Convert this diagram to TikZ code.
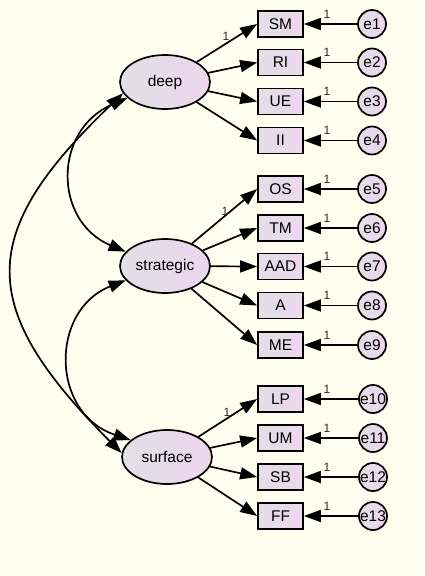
\documentclass[tikz,border=0pt]{standalone}
\usepackage{fontspec}
\setmainfont{Liberation Sans}
\usetikzlibrary{arrows.meta,shapes.geometric}
\definecolor{bg}{RGB}{255,255,240}
\definecolor{fillA}{RGB}{224,224,230}
\definecolor{fillB}{RGB}{238,214,238}
\definecolor{onecol}{RGB}{40,40,40}
\tikzset{
  txt/.style={font=\fontsize{15.5}{18}\selectfont},
  latent/.style={ellipse,draw,line width=1.7pt,minimum width=90pt,minimum height=54pt,inner sep=0pt,left color=fillA,right color=fillB,txt},
  obs/.style={rectangle,draw,line width=1.7pt,minimum width=45pt,minimum height=26pt,inner sep=0pt,left color=fillA,right color=fillB,txt},
  err/.style={circle,draw,line width=1.7pt,minimum size=28pt,inner sep=0pt,left color=fillA,right color=fillB,txt},
  arr/.style={-{Triangle[length=17pt,width=12pt]},line width=1.7pt},
  cov/.style={{Triangle[length=17pt,width=12pt]}-{Triangle[length=17pt,width=12pt]},line width=1.7pt},
  one/.style={font=\fontsize{12}{13}\selectfont,text=onecol,inner sep=0pt}
}
\begin{document}
\begin{tikzpicture}[x=1pt,y=-1pt]
\fill[bg] (0,0) rectangle (424,576);
\useasboundingbox (0,0) rectangle (424,576);
% latent variables
\node[latent] (deep) at (165,82) {deep};
\node[latent] (strategic) at (165,266) {strategic};
\node[latent] (surface) at (167,457) {surface};
% observed and errors
\foreach \n/\e/\y/\lat/\ex in {SM/e1/24/deep/372, RI/e2/62.5/deep/372, UE/e3/101.5/deep/372, II/e4/140.5/deep/372,
  OS/e5/189/strategic/372, TM/e6/228/strategic/372, AAD/e7/266.5/strategic/372, A/e8/305.5/strategic/372, ME/e9/345/strategic/372,
  LP/e10/399/surface/373, UM/e11/438/surface/373, SB/e12/477/surface/373, FF/e13/516/surface/373}{
  \node[obs] (\n) at (280.5,\y) {\n};
  \node[err] (\e) at (\ex,\y) {\e};
  \draw[arr] (\e) -- (\n);
  \node[one] (l\e) at (327,\y-10) {1};
  \draw[arr] (\lat) -- (\n.west);
}
% loading labels
\node[one] (ldeep) at (226,36) {1};
\node[one] (lstrategic) at (225,211) {1};
\node[one] (lsurface) at (227,412) {1};
% covariances
\draw[cov] (deep.195) .. controls (-24,234) and (-24,307) .. (surface.175);
\draw[cov] (deep.203) .. controls (53,130) and (53,221) .. (strategic.160);
\draw[cov] (strategic.200) .. controls (50,310) and (50,413) .. (surface.155);
\end{tikzpicture}
\end{document}
